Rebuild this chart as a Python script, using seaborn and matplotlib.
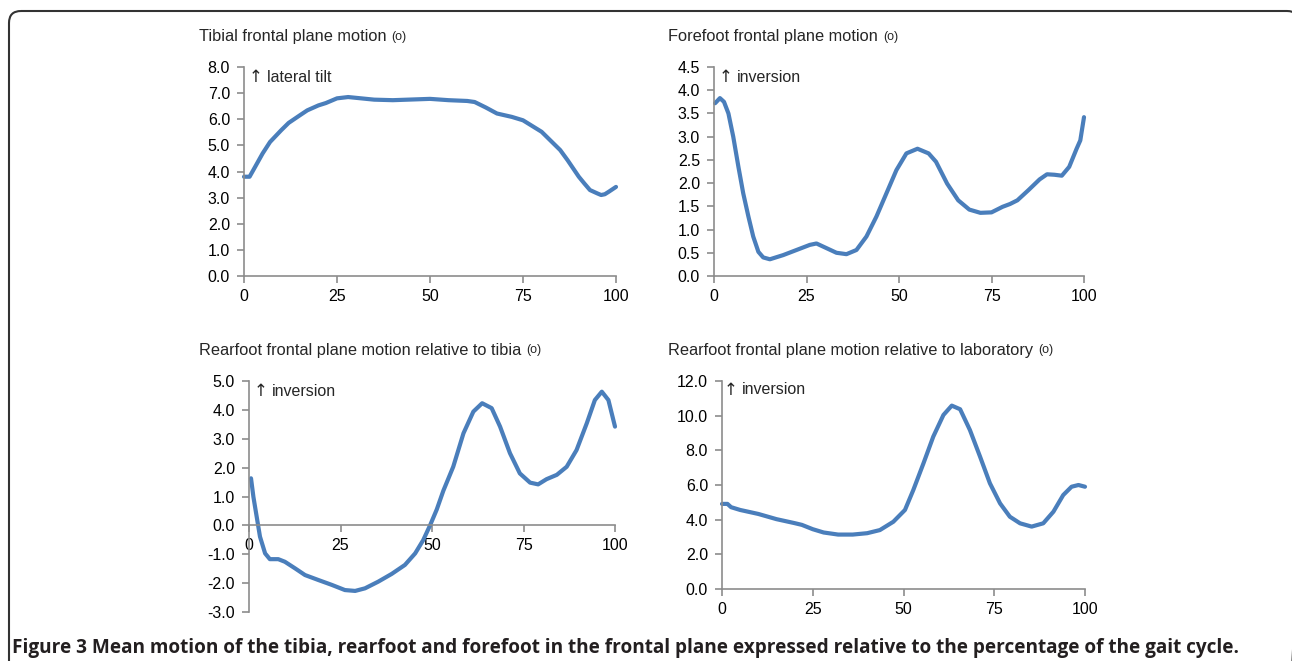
import numpy as np
import pandas as pd
import matplotlib
matplotlib.use("Agg")
import matplotlib.pyplot as plt
import matplotlib.transforms as mtransforms
import seaborn as sns
from matplotlib.patches import FancyBboxPatch

# Values (percentage of gait cycle vs degrees)
tibia_x = [0, 1.5, 3, 5, 7, 10, 12, 15, 17, 20, 22, 25, 28, 35, 40, 50, 55, 60, 62, 65, 68, 72, 75, 80, 85, 87, 90,
           91.5, 93, 95, 96, 97, 98, 100]
tibia_y = [3.8, 3.8, 4.18, 4.69, 5.13, 5.58, 5.86, 6.15, 6.34, 6.53, 6.62, 6.8, 6.85, 6.75, 6.73, 6.78, 6.73, 6.7, 6.66,
           6.45, 6.22, 6.09, 5.96, 5.52, 4.82, 4.43, 3.8, 3.54, 3.29, 3.16, 3.1, 3.13, 3.22, 3.41]

fore_x = [0.3, 1.6, 2.7, 3.9, 5.2, 6.6, 7.9, 9.3, 10.6, 12, 13.3, 15.1, 18.7, 22.3, 25.9, 27.7, 30.4, 33.1, 35.8, 38.5, 41.2,
          43.9, 46.6, 49.3, 52, 55, 58, 60, 63, 66, 69, 72, 75, 78, 80, 82, 85, 88, 90, 92, 94, 96, 98, 99, 100]
fore_y = [3.72, 3.83, 3.75, 3.5, 3.0, 2.35, 1.78, 1.28, 0.85, 0.52, 0.4, 0.36, 0.45, 0.56, 0.67, 0.7, 0.6, 0.5, 0.47, 0.56, 0.85,
          1.28, 1.78, 2.28, 2.64, 2.74, 2.64, 2.46, 1.99, 1.63, 1.43, 1.36, 1.37, 1.49, 1.55, 1.63, 1.85, 2.08, 2.19, 2.18, 2.16, 2.35, 2.74, 2.92, 3.42]

rf_tib_x = [0.55, 1.2, 2.1, 3.0, 4.4, 5.7, 8.0, 9.8, 12.6, 15.3, 18.9, 22.6, 26.2, 29, 31.7, 35.3, 39, 42.6, 45.4, 47.6, 49.5,
            51.3, 53.1, 55.8, 58.6, 61.3, 63.7, 66.3, 68.6, 71.3, 74.0, 76.8, 79.0, 81.3, 84.1, 86.8, 89.5, 92.3, 94.5, 96.4, 98.2, 100]
rf_tib_y = [1.63, 0.99, 0.3, -0.39, -0.97, -1.17, -1.17, -1.26, -1.49, -1.72, -1.89, -2.06, -2.24, -2.27, -2.18, -1.95, -1.68, -1.37, -0.97, -0.51, 0.01,
            0.55, 1.2, 2.03, 3.19, 3.94, 4.23, 4.06, 3.42, 2.5, 1.8, 1.48, 1.42, 1.6, 1.75, 2.03, 2.61, 3.54, 4.34, 4.63, 4.34, 3.42]

rf_lab_x = [0, 1.5, 2.5, 5, 10, 15, 20, 22, 25, 28, 32, 36, 40, 43.5, 47.2, 50.4, 52.7, 55.5, 58.2, 61, 63.3, 65.6, 68.3, 71.1,
            73.8, 76.6, 79.3, 82.1, 85.3, 88.5, 91.3, 94, 96.3, 98.2, 100]
rf_lab_y = [4.91, 4.91, 4.72, 4.56, 4.33, 4.03, 3.8, 3.7, 3.45, 3.26, 3.14, 3.14, 3.22, 3.4, 3.88, 4.56, 5.71, 7.25, 8.79, 10.04, 10.58, 10.37, 9.17, 7.63,
            6.1, 4.94, 4.17, 3.79, 3.6, 3.79, 4.46, 5.42, 5.9, 6.0, 5.9]

titles = ["Tibial frontal plane motion", "Forefoot frontal plane motion",
          "Rearfoot frontal plane motion relative to tibia",
          "Rearfoot frontal plane motion relative to laboratory"]
notes = ["lateral tilt", "inversion", "inversion", "inversion"]
y_ticks = [np.arange(0, 8.01, 1.0), np.arange(0, 4.51, 0.5),
           np.arange(-3, 5.01, 1.0), np.arange(0, 12.01, 2.0)]
x_ticks = [0, 25, 50, 75, 100]
caption = ("Figure 3 Mean motion of the tibia, rearfoot and forefoot in the frontal plane "
           "expressed relative to the percentage of the gait cycle.")

sns.set_style("white")
plt.rcParams['font.family'] = ['Liberation Sans', 'DejaVu Sans']

W, H = 1292, 661
fig = plt.figure(figsize=(W / 100, H / 100), dpi=100)
px = mtransforms.Affine2D().scale(1 / W, -1 / H).translate(0, 1) + fig.transFigure  # pixel coords, y down

# axes boxes in pixels: left, right, top, bottom
boxes = [(244, 616, 67, 276), (714, 1084, 67, 276),
         (249, 615, 381, 612), (722, 1085, 381, 589)]
series = [(tibia_x, tibia_y), (fore_x, fore_y), (rf_tib_x, rf_tib_y), (rf_lab_x, rf_lab_y)]
title_pos = [(199, 37), (668, 37), (199, 350), (668, 350)]
note_pos = [(250, 77), (720, 77), (255, 391), (725, 390)]

line_color = "#4a7ebb"
spine_color = "#8c8c8c"

for i in range(4):
    l, r, t, b = boxes[i]
    ax = fig.add_axes([l / W, 1 - b / H, (r - l) / W, (b - t) / H])
    df = pd.DataFrame({"pct": series[i][0], "deg": series[i][1]})
    sns.lineplot(data=df, x="pct", y="deg", ax=ax, color=line_color, linewidth=3.0,
                 solid_joinstyle="round", solid_capstyle="round", clip_on=False)
    yt = y_ticks[i]
    ax.set_ylim(yt[0], yt[-1])
    ax.set_xlim(0, 100)
    ax.set_yticks(yt)
    ax.set_yticklabels([f"{v:.1f}" for v in yt])
    ax.set_xticks(x_ticks)
    ax.set_xlabel("")
    ax.set_ylabel("")
    for s in ["top", "right"]:
        ax.spines[s].set_visible(False)
    for s in ["left", "bottom"]:
        ax.spines[s].set_color(spine_color)
        ax.spines[s].set_linewidth(1.2)
    if i == 2:
        ax.spines["bottom"].set_position(("data", 0))
    ax.tick_params(axis="both", which="both", direction="out", length=5, width=1.2,
                   color=spine_color, labelsize=11.5, labelcolor="black")
    ax.tick_params(axis="y", pad=5)
    ax.tick_params(axis="x", pad=4)
    ax.tick_params(bottom=True, left=True)
    ax.set_facecolor("none")

    tx, ty = title_pos[i]
    tt = fig.text(tx, ty, titles[i], fontsize=11.8, va="center", ha="left", transform=px)
    fig.canvas.draw()
    x1 = tt.get_window_extent().x1
    fig.text(x1 + 5, ty, "(o)", fontsize=9, va="center", ha="left", transform=px)
    nx, ny = note_pos[i]
    fig.text(nx - 1, ny, "\u2191", fontsize=12, va="center", ha="left", transform=px,
             family=["DejaVu Sans"])
    fig.text(nx + 17, ny, notes[i], fontsize=11.5, va="center", ha="left", transform=px)

fig.text(12, 648, caption, fontsize=13.7, fontweight="bold",
         family=["Open Sans", "DejaVu Sans"], va="center", ha="left", color="#231f20", transform=px)

frame = FancyBboxPatch((9, 11), 1290, 700, boxstyle="round,pad=0,rounding_size=12",
                       transform=px, fill=False, edgecolor="#333333", linewidth=1.5, clip_on=False)
fig.patches.append(frame)

fig.savefig("out.png", dpi=100)
